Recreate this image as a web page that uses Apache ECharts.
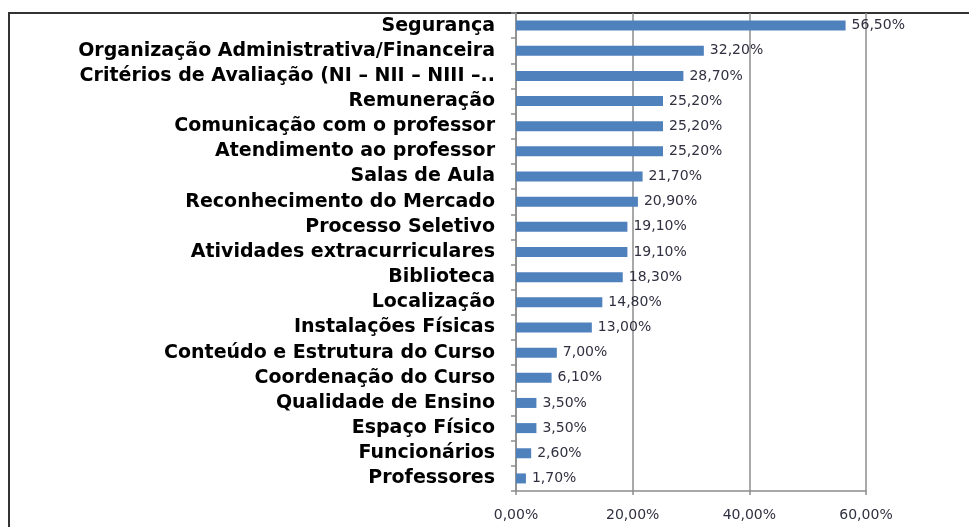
<!DOCTYPE html>
<html>
<head>
<meta charset="utf-8">
<script src="https://cdn.jsdelivr.net/npm/echarts@6/dist/echarts.min.js"></script>
<style>
  html, body { margin: 0; padding: 0; background: #ffffff; }
  #chart { width: 969px; height: 527px; }
</style>
</head>
<body>
<div id="chart"></div>
<script>
// Aspectos avaliados e respectivos percentuais
const categories = [
  'Segurança',
  'Organização Administrativa/Financeira',
  'Critérios de Avaliação (NI – NII – NIII –..',
  'Remuneração',
  'Comunicação com o professor',
  'Atendimento ao professor',
  'Salas de Aula',
  'Reconhecimento do Mercado',
  'Processo Seletivo',
  'Atividades extracurriculares',
  'Biblioteca',
  'Localização',
  'Instalações Físicas',
  'Conteúdo e Estrutura do Curso',
  'Coordenação do Curso',
  'Qualidade de Ensino',
  'Espaço Físico',
  'Funcionários',
  'Professores'
];
const percentValues = [56.5, 32.2, 28.7, 25.2, 25.2, 25.2, 21.7, 20.9, 19.1, 19.1, 18.3, 14.8, 13.0, 7.0, 6.1, 3.5, 3.5, 2.6, 1.7];
const axisTicks = [0, 20, 40, 60];

const fmtPct = v => v.toFixed(2).replace('.', ',') + '%';

const chart = echarts.init(document.getElementById('chart'), null, { renderer: 'canvas' });
chart.setOption({
  animation: false,
  backgroundColor: '#ffffff',
  grid: { left: 516, right: 103, top: 13, bottom: 36, containLabel: false },
  xAxis: {
    type: 'value',
    min: axisTicks[0],
    max: axisTicks[axisTicks.length - 1],
    interval: axisTicks[1] - axisTicks[0],
    axisLine: { show: true, lineStyle: { color: '#8c8c8c', width: 1.5 } },
    axisTick: { show: true, length: 4, lineStyle: { color: '#8c8c8c', width: 1.5 } },
    splitLine: { show: true, lineStyle: { color: '#8c8c8c', width: 1.5 } },
    axisLabel: {
      formatter: fmtPct,
      margin: 17,
      color: '#303040',
      fontFamily: 'DejaVu Sans',
      fontSize: 14
    }
  },
  yAxis: {
    type: 'category',
    inverse: true,
    data: categories,
    axisLine: { show: true, lineStyle: { color: '#8c8c8c', width: 1.5 } },
    axisTick: { show: true, length: 5, interval: 0, alignWithLabel: false, lineStyle: { color: '#8c8c8c', width: 1.5 } },
    splitLine: { show: false },
    axisLabel: {
      interval: 0,
      hideOverlap: false,
      margin: 21,
      color: '#000000',
      fontFamily: 'DejaVu Sans',
      fontWeight: 'bold',
      fontSize: 19
    }
  },
  series: [{
    type: 'bar',
    data: percentValues,
    barWidth: 10,
    itemStyle: { color: '#4f81bd' },
    label: {
      show: true,
      position: 'right',
      distance: 6,
      formatter: p => fmtPct(p.value),
      color: '#303040',
      fontFamily: 'DejaVu Sans',
      fontSize: 14
    }
  }],
  graphic: [{
    type: 'rect',
    silent: true,
    shape: { x: 9, y: 13, width: 1200, height: 800 },
    style: { fill: 'none', stroke: '#333333', lineWidth: 2 }
  }]
});
</script>
</body>
</html>
